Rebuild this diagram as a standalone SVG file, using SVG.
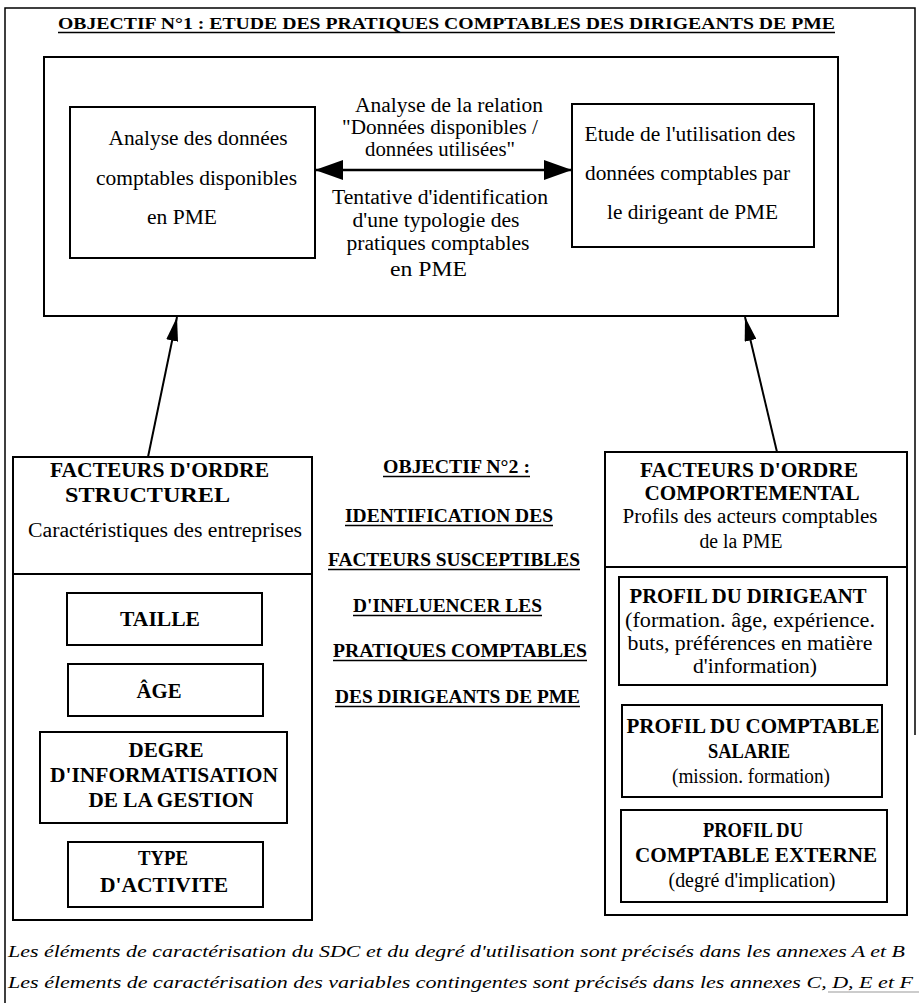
<svg xmlns="http://www.w3.org/2000/svg" width="919" height="1003" viewBox="0 0 919 1003">
<style>
text{font-family:"Liberation Serif","Times New Roman",serif;fill:#000}
.r{font-size:20px;text-anchor:middle}
.rs{font-size:20px}
.b{font-size:20px;font-weight:bold;text-anchor:middle}
.t{font-size:17px;font-weight:bold;text-anchor:middle}
.o{font-size:18px;font-weight:bold;text-anchor:middle}
.i{font-size:17px;font-style:italic}
.box{fill:none;stroke:#000;stroke-width:2}
.frame{fill:none;stroke:#000;stroke-width:1.5}
.ul{stroke:#000;stroke-width:1.5}
.con{stroke:#000;fill:none}
</style>
<defs>
<marker id="ah" viewBox="0 0 28 20" refX="28" refY="10" markerWidth="28" markerHeight="20" markerUnits="userSpaceOnUse" orient="auto-start-reverse"><path d="M0,0 L28,10 L0,20 z" fill="#000"/></marker>
<marker id="ah2" viewBox="0 0 24 12" refX="24" refY="6" markerWidth="24" markerHeight="12" markerUnits="userSpaceOnUse" orient="auto"><path d="M0,0 L24,6 L0,12 z" fill="#000"/></marker>
</defs>
<rect width="919" height="1003" fill="#fff"/>
<g id="frame">
<path class="frame" d="M5,1003 V8 H915 V735"/>
<line x1="828" y1="992" x2="919" y2="992" stroke="#999" stroke-width="1.2"/>
</g>
<g id="title">
<text class="t" x="446.5" y="29" textLength="777" lengthAdjust="spacingAndGlyphs">OBJECTIF N°1 : ETUDE DES PRATIQUES COMPTABLES DES DIRIGEANTS DE  PME</text>
<line class="ul" x1="58" y1="32.5" x2="835" y2="32.5"/>
</g>
<g id="objectif1">
<rect class="box" x="44" y="57" width="794" height="259"/>
<text class="r" x="449" y="112" textLength="188" lengthAdjust="spacingAndGlyphs">Analyse de la relation</text>
<text class="r" x="440" y="134" textLength="196" lengthAdjust="spacingAndGlyphs">"Données disponibles /</text>
<text class="r" x="440" y="156" textLength="150" lengthAdjust="spacingAndGlyphs">données utilisées"</text>
<text class="r" x="440" y="204" textLength="216" lengthAdjust="spacingAndGlyphs">Tentative d'identification</text>
<text class="r" x="436" y="227" textLength="167" lengthAdjust="spacingAndGlyphs">d'une typologie des</text>
<text class="r" x="438" y="250" textLength="183" lengthAdjust="spacingAndGlyphs">pratiques comptables</text>
<text class="rs" x="390" y="276" textLength="77" lengthAdjust="spacingAndGlyphs">en  PME</text>
</g>
<g id="donnees-disponibles">
<rect class="box" x="70" y="107" width="245" height="151"/>
<text class="r" x="198" y="145" textLength="179" lengthAdjust="spacingAndGlyphs">Analyse des données</text>
<text class="r" x="196.5" y="185" textLength="201" lengthAdjust="spacingAndGlyphs">comptables disponibles</text>
<text class="rs" x="147" y="224" textLength="70" lengthAdjust="spacingAndGlyphs">en PME</text>
</g>
<g id="utilisation">
<rect class="box" x="572" y="104" width="242" height="143"/>
<text class="r" x="690" y="141" textLength="211" lengthAdjust="spacingAndGlyphs">Etude de l'utilisation des</text>
<text class="rs" x="585" y="180" textLength="205" lengthAdjust="spacingAndGlyphs">données comptables par</text>
<text class="rs" x="607" y="219" textLength="171" lengthAdjust="spacingAndGlyphs">le dirigeant de PME</text>
</g>
<g id="structurel">
<rect class="box" x="13" y="457" width="299" height="463"/>
<line class="box" x1="13" y1="574" x2="312" y2="574"/>
<text class="b" x="159.5" y="477" textLength="219" lengthAdjust="spacingAndGlyphs">FACTEURS D'ORDRE</text>
<text class="b" x="147.5" y="502" textLength="165" lengthAdjust="spacingAndGlyphs">STRUCTUREL</text>
<text class="r" x="165" y="537" textLength="274" lengthAdjust="spacingAndGlyphs">Caractéristiques des entreprises</text>
</g>
<g id="taille">
<rect class="box" x="67" y="593" width="195" height="52"/>
<text class="b" x="160" y="626" textLength="80" lengthAdjust="spacingAndGlyphs">TAILLE</text>
</g>
<g id="age">
<rect class="box" x="68" y="664" width="195" height="52"/>
<text class="b" x="159" y="698" textLength="45" lengthAdjust="spacingAndGlyphs">ÂGE</text>
</g>
<g id="degre">
<rect class="box" x="40" y="732" width="247" height="91"/>
<text class="b" x="166" y="757" textLength="75" lengthAdjust="spacingAndGlyphs">DEGRE</text>
<text class="b" x="164" y="782" textLength="228" lengthAdjust="spacingAndGlyphs">D'INFORMATISATION</text>
<text class="b" x="171" y="807" textLength="165" lengthAdjust="spacingAndGlyphs">DE LA GESTION</text>
</g>
<g id="type">
<rect class="box" x="68" y="842" width="195" height="65"/>
<text class="b" x="163" y="865" textLength="50" lengthAdjust="spacingAndGlyphs">TYPE</text>
<text class="b" x="164" y="892" textLength="128" lengthAdjust="spacingAndGlyphs">D'ACTIVITE</text>
</g>
<g id="objectif2">
<text class="o" x="456.5" y="473" textLength="147" lengthAdjust="spacingAndGlyphs">OBJECTIF N°2 :</text>
<line class="ul" x1="383" y1="476.5" x2="530" y2="476.5"/>
<text class="o" x="449" y="522" textLength="208" lengthAdjust="spacingAndGlyphs">IDENTIFICATION DES</text>
<line class="ul" x1="345" y1="525.5" x2="553" y2="525.5"/>
<text class="o" x="454" y="566" textLength="252" lengthAdjust="spacingAndGlyphs">FACTEURS SUSCEPTIBLES</text>
<line class="ul" x1="328" y1="569.5" x2="580" y2="569.5"/>
<text class="o" x="447.5" y="612" textLength="189" lengthAdjust="spacingAndGlyphs">D'INFLUENCER LES</text>
<line class="ul" x1="353" y1="615.5" x2="542" y2="615.5"/>
<text class="o" x="460" y="657" textLength="254" lengthAdjust="spacingAndGlyphs">PRATIQUES COMPTABLES</text>
<line class="ul" x1="333" y1="660.5" x2="587" y2="660.5"/>
<text class="o" x="457.5" y="703" textLength="245" lengthAdjust="spacingAndGlyphs">DES DIRIGEANTS DE PME</text>
<line class="ul" x1="335" y1="706.5" x2="580" y2="706.5"/>
</g>
<g id="comportemental">
<rect class="box" x="605" y="452" width="302" height="463"/>
<line class="box" x1="605" y1="567" x2="907" y2="567"/>
<text class="b" x="749" y="477" textLength="218" lengthAdjust="spacingAndGlyphs">FACTEURS D'ORDRE</text>
<text class="b" x="752" y="500" textLength="215" lengthAdjust="spacingAndGlyphs">COMPORTEMENTAL</text>
<text class="r" x="750" y="523" textLength="255" lengthAdjust="spacingAndGlyphs">Profils des acteurs comptables</text>
<text class="r" x="741" y="548" textLength="83" lengthAdjust="spacingAndGlyphs">de la PME</text>
</g>
<g id="profil-dirigeant">
<rect class="box" x="619" y="577" width="268" height="108"/>
<text class="b" x="748" y="603" textLength="237" lengthAdjust="spacingAndGlyphs">PROFIL DU DIRIGEANT</text>
<text class="r" x="750" y="627" textLength="250" lengthAdjust="spacingAndGlyphs">(formation. âge, expérience.</text>
<text class="r" x="750" y="650" textLength="245" lengthAdjust="spacingAndGlyphs">buts, préférences en matière</text>
<text class="r" x="755" y="673" textLength="124" lengthAdjust="spacingAndGlyphs">d'information)</text>
</g>
<g id="profil-salarie">
<rect class="box" x="622" y="705" width="260" height="92"/>
<text class="b" x="753" y="733" textLength="253" lengthAdjust="spacingAndGlyphs">PROFIL DU COMPTABLE</text>
<text class="b" x="749" y="758" textLength="82" lengthAdjust="spacingAndGlyphs">SALARIE</text>
<text class="r" x="751" y="783" textLength="158" lengthAdjust="spacingAndGlyphs">(mission. formation)</text>
</g>
<g id="profil-externe">
<rect class="box" x="621" y="810" width="266" height="92"/>
<text class="b" x="753" y="837" textLength="100" lengthAdjust="spacingAndGlyphs">PROFIL DU</text>
<text class="b" x="756" y="862" textLength="242" lengthAdjust="spacingAndGlyphs">COMPTABLE EXTERNE</text>
<text class="r" x="752" y="887" textLength="167" lengthAdjust="spacingAndGlyphs">(degré d'implication)</text>
</g>
<g id="notes">
<text class="i" x="8" y="957" textLength="897" lengthAdjust="spacingAndGlyphs">Les éléments de caractérisation du SDC et du degré d'utilisation sont précisés dans les annexes A et B</text>
<text class="i" x="8" y="988" textLength="905" lengthAdjust="spacingAndGlyphs">Les élements de caractérisation des variables contingentes sont précisés dans les annexes C, D, E et F</text>
</g>
<g id="connectors">
<line class="con" x1="315" y1="170" x2="572" y2="170" stroke-width="2.5" marker-start="url(#ah)" marker-end="url(#ah)"/>
<line class="con" x1="148" y1="457" x2="177" y2="317" stroke-width="2" marker-end="url(#ah2)"/>
<line class="con" x1="777" y1="452" x2="745" y2="317" stroke-width="2" marker-end="url(#ah2)"/>
</g>
</svg>
